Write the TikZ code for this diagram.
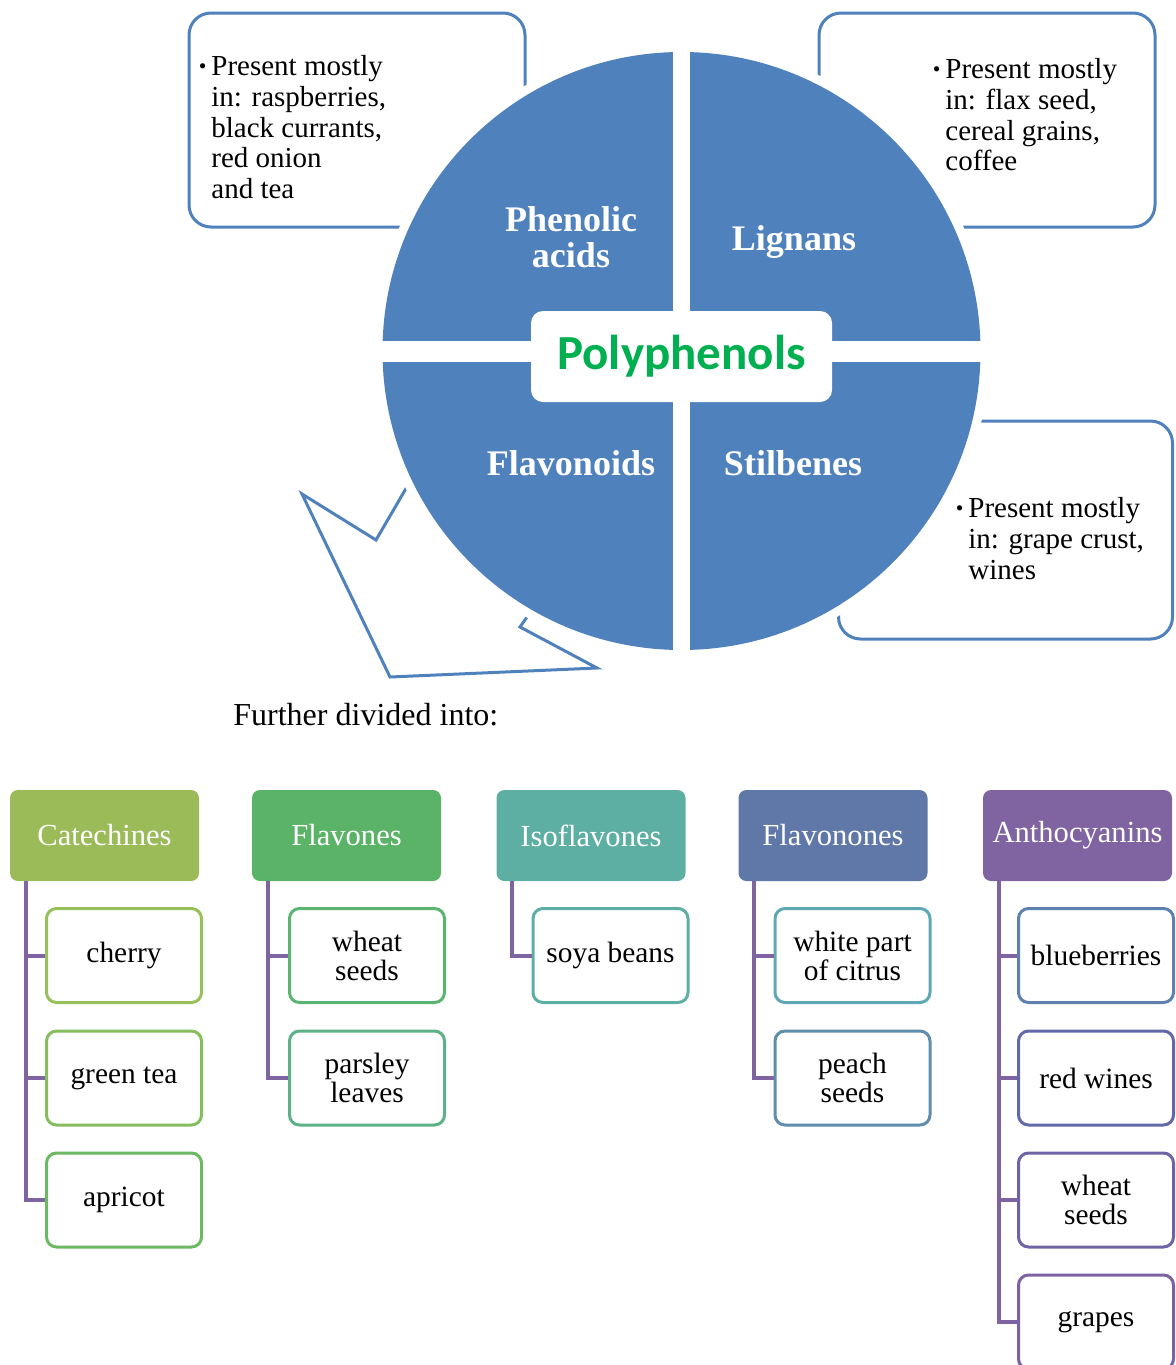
\documentclass[tikz,border=0pt]{standalone}
\usepackage{fontspec}
\setmainfont{Liberation Serif}
\newfontfamily\calib{Carlito}
\definecolor{cblue}{HTML}{4F81BD}
\definecolor{pgreen}{HTML}{00B050}
\definecolor{hCat}{HTML}{9BBB59}
\definecolor{hFla}{HTML}{5BB367}
\definecolor{hIso}{HTML}{5DAFA4}
\definecolor{hFlo}{HTML}{5F78A8}
\definecolor{hAnt}{HTML}{8064A2}
\definecolor{bCa}{HTML}{97C05B}
\definecolor{bCb}{HTML}{86BE5E}
\definecolor{bCc}{HTML}{6DB862}
\definecolor{bFa}{HTML}{5CB472}
\definecolor{bFb}{HTML}{5CB286}
\definecolor{bIa}{HTML}{5DAEA5}
\definecolor{bLa}{HTML}{5EA8B4}
\definecolor{bLb}{HTML}{5E8DAE}
\definecolor{bAa}{HTML}{5E80AE}
\definecolor{bAb}{HTML}{6369A8}
\definecolor{bAc}{HTML}{6E64A5}
\definecolor{bAd}{HTML}{7B63A3}
\definecolor{connc}{HTML}{8064A2}
\newcommand\mybul{\llap{\raisebox{0.15ex}{\scalebox{0.75}{\textbullet}}\hspace{2.5pt}}}
\newcommand\dn[1]{\raisebox{-1.5pt}{#1}}
\begin{document}
\begin{tikzpicture}[x=0.5pt,y=-0.5pt,
  callout/.style={draw=cblue, line width=1.5pt, rounded corners=11pt, fill=white, minimum width=168pt, minimum height=107pt, inner sep=0pt},
  ctext/.style={inner sep=0pt, align=left, font=\fontsize{14.5}{15.4}\selectfont, anchor=north west},
  quad/.style={text=white, font=\bfseries\fontsize{18}{18}\selectfont, align=center, inner sep=0pt},
  head/.style={fill=#1, draw=none, rounded corners=4pt, minimum width=94.5pt, minimum height=45.5pt, text=white, font=\fontsize{15.3}{15}\selectfont, inner sep=0pt},
  leaf/.style={draw=#1, fill=white, line width=1.5pt, rounded corners=5pt, minimum width=77.5pt, minimum height=47pt, align=center, font=\fontsize{14.7}{14.5}\selectfont, inner sep=0pt},
  link/.style={draw=connc, line width=2pt},
]
\clip (0,0) rectangle (1176,1365);
% callout boxes
\node[callout] (co1) at (357,120) {};
\node[callout] (co2) at (987,120) {};
\node[callout, minimum width=167pt, minimum height=109pt] (co3) at (1005.5,530) {};
% arrow outline
\draw[cblue, line width=1.5pt, line join=miter] (422,461) -- (376,540) -- (302,494) -- (390,677) -- (597,668) -- (520,627) -- (541,597);
% circle with white halo and gaps
\fill[white] (681.5,351) circle[radius=308];
\fill[cblue] (681.5,351) circle[radius=299];
\fill[white] (673,40) rectangle (690,662);
\fill[white] (373.5,341) rectangle (989.5,362);
\node[fill=white, rounded corners=6pt, minimum width=150.5pt, minimum height=45.5pt, inner sep=0pt] (poly) at (681.5,356.5) {\calib\bfseries\fontsize{24.5}{24}\selectfont\color{pgreen}Polyphenols};
% quadrant labels
\node[quad] (phe) at (571,237) {Phenolic\\[0pt]acids};
\node[quad] (lig) at (794,242) {Lignans};
\node[quad] (flv) at (571,463) {Flavonoids};
\node[quad] (sti) at (793,463) {Stilbenes};
% callout texts
\node[ctext] (ta) at (211,55) {\mybul Present mostly\\in: raspberries,\\black currants,\\red onion\\and tea};
\node[ctext] (tb) at (945,58) {\mybul Present mostly\\in: flax seed,\\cereal grains,\\coffee};
\node[ctext] (tc) at (968,497) {\mybul Present mostly\\in: grape crust,\\wines};
% caption
\node[font=\fontsize{16}{16}\selectfont, anchor=west, inner sep=0pt] (fdi) at (233,715) {Further divided into:};
% headers
\node[head=hCat] (cat) at (104.5,835.5) {Catechines};
\node[head=hFla] (fla) at (346.5,835.5) {Flavones};
\node[head=hIso] (iso) at (591,835.5) {Isoflavones};
\node[head=hFlo] (flo) at (833,835.5) {Flavonones};
\node[head=hAnt] (ant) at (1077.5,835.5) {\dn{Anthocyanins}};
% leaves
\node[leaf=bCa] (cata) at (124,955.5) {\dn{cherry}};
\node[leaf=bCb] (catb) at (124,1078) {\dn{green tea}};
\node[leaf=bCc] (catc) at (124,1200) {\dn{apricot}};
\node[leaf=bFa] (flaa) at (367,955.5) {wheat\\seeds};
\node[leaf=bFb] (flab) at (367,1078) {parsley\\leaves};
\node[leaf=bIa] (isoa) at (610.5,955.5) {\dn{soya beans}};
\node[leaf=bLa] (floa) at (852.5,955.5) {white part\\of citrus};
\node[leaf=bLb] (flob) at (852.5,1078) {peach\\seeds};
\node[leaf=bAa] (anta) at (1096,955.5) {blueberries};
\node[leaf=bAb] (antb) at (1096,1078) {red wines};
\node[leaf=bAc] (antc) at (1096,1200) {wheat\\seeds};
\node[leaf=bAd] (antd) at (1096,1322) {\dn{grapes}};
% connectors
\foreach \h/\c in {cat/cata,cat/catb,cat/catc,fla/flaa,fla/flab,iso/isoa,flo/floa,flo/flob,ant/anta,ant/antb,ant/antc,ant/antd}
  \draw[link] ([xshift=8pt]\h.south west) |- (\c.west);
\end{tikzpicture}
\end{document}
